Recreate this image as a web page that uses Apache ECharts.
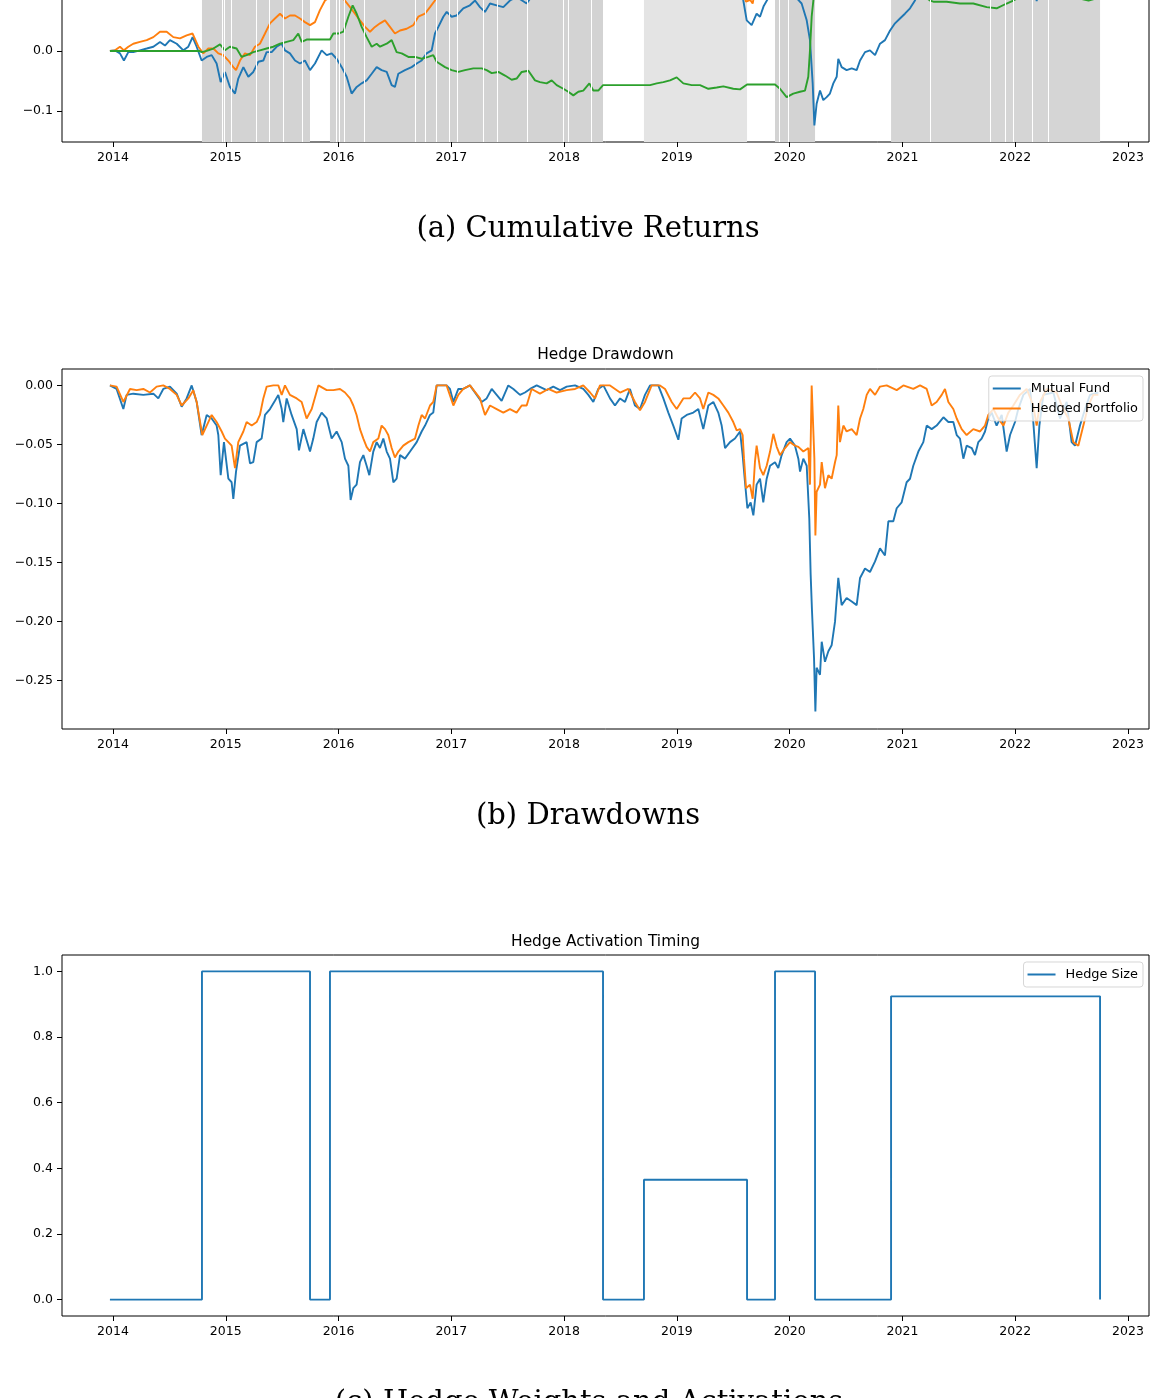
<!DOCTYPE html>
<html><head><meta charset="utf-8">
<script src="https://cdn.jsdelivr.net/npm/echarts@6/dist/echarts.min.js"></script>
<style>html,body{margin:0;padding:0;background:#fff;}#c{width:1158px;height:1398px;}</style>
</head><body><div id="c"></div>
<script>
// ---------------- data ----------------
const yearTicks = [2014, 2015, 2016, 2017, 2018, 2019, 2020, 2021, 2022, 2023];
const cumTicks = [-0.1, 0.0, 0.1, 0.2, 0.3, 0.4];
const ddTicks = [0, -0.05, -0.10, -0.15, -0.20, -0.25];
const sizeTicks = [0, 0.2, 0.4, 0.6, 0.8, 1.0];

// hedge size: value holds from hedgeYears[i] until hedgeYears[i+1]
const hedgeYears = [2013.973, 2014.789, 2015.747, 2015.924, 2018.345, 2018.708, 2019.622, 2019.870, 2020.225, 2020.899, 2022.752];
const hedgeSize  = [0, 1, 0, 1, 0, 0.365, 0, 1, 0, 0.924, 0];

// thin white gaps inside the shaded hedge periods
const shadeGapYears = [2014.973, 2014.993, 2015.052, 2015.268, 2015.392, 2015.510, 2015.682,
  2015.977, 2016.013, 2016.051, 2016.228, 2016.684, 2016.773, 2016.870, 2016.982, 2017.048,
  2017.283, 2017.408, 2017.668, 2017.987, 2018.037, 2018.245, 2019.914, 2019.988,
  2021.25, 2021.776, 2021.909, 2021.983, 2022.146, 2022.293];

const fundCum = [[2013.973,0],[2014.018,0.001],[2014.062,-0.004],[2014.097,-0.016],[2014.136,-0.002],[2014.180,-0.002],[2014.239,0.001],[2014.299,0.004],[2014.358,0.007],[2014.417,0.015],[2014.461,0.009],[2014.505,0.018],[2014.565,0.012],[2014.624,0.001],[2014.668,0.007],[2014.706,0.023],[2014.742,0.007],[2014.786,-0.016],[2014.831,-0.010],[2014.875,-0.007],[2014.919,-0.021],[2014.955,-0.052],[2014.993,-0.035],[2015.037,-0.060],[2015.082,-0.071],[2015.111,-0.046],[2015.156,-0.027],[2015.200,-0.043],[2015.244,-0.035],[2015.289,-0.018],[2015.333,-0.016],[2015.362,-0.002],[2015.407,-0.002],[2015.451,0.007],[2015.496,0.012],[2015.525,0.001],[2015.569,-0.004],[2015.614,-0.016],[2015.658,-0.021],[2015.702,-0.016],[2015.747,-0.032],[2015.791,-0.021],[2015.850,0.001],[2015.895,-0.007],[2015.939,-0.004],[2015.983,-0.013],[2016.028,-0.027],[2016.072,-0.043],[2016.116,-0.071],[2016.161,-0.060],[2016.205,-0.054],[2016.249,-0.049],[2016.294,-0.038],[2016.338,-0.027],[2016.382,-0.032],[2016.427,-0.035],[2016.471,-0.057],[2016.500,-0.060],[2016.530,-0.038],[2016.589,-0.032],[2016.648,-0.027],[2016.693,-0.021],[2016.737,-0.016],[2016.781,-0.004],[2016.826,0.001],[2016.855,0.029],[2016.885,0.040],[2016.929,0.057],[2016.959,0.065],[2017.003,0.057],[2017.047,0.059],[2017.106,0.071],[2017.165,0.076],[2017.210,0.084],[2017.254,0.073],[2017.298,0.065],[2017.343,0.079],[2017.402,0.076],[2017.461,0.073],[2017.520,0.084],[2017.579,0.090],[2017.668,0.079],[2017.698,0.087],[2017.8,0.10],[2018.0,0.115],[2018.2,0.13],[2018.35,0.14],[2018.6,0.15],[2018.8,0.165],[2019.0,0.111],[2019.1,0.136],[2019.23,0.122],[2019.3,0.148],[2019.43,0.103],[2019.52,0.112],[2019.56,0.12],[2019.589,0.084],[2019.619,0.051],[2019.663,0.043],[2019.707,0.062],[2019.737,0.057],[2019.77,0.075],[2019.81,0.088],[2019.87,0.095],[2019.97,0.109],[2020.0,0.113],[2020.062,0.088],[2020.106,0.079],[2020.151,0.051],[2020.180,0.018],[2020.204,-0.054],[2020.219,-0.124],[2020.239,-0.088],[2020.269,-0.066],[2020.298,-0.082],[2020.328,-0.077],[2020.357,-0.071],[2020.387,-0.054],[2020.417,-0.043],[2020.431,-0.013],[2020.461,-0.027],[2020.505,-0.032],[2020.550,-0.029],[2020.594,-0.032],[2020.624,-0.016],[2020.668,-0.002],[2020.712,0.001],[2020.757,-0.007],[2020.801,0.012],[2020.845,0.018],[2020.890,0.034],[2020.934,0.046],[2020.978,0.054],[2021.022,0.062],[2021.067,0.071],[2021.111,0.084],[2021.2,0.125],[2021.36,0.133],[2021.54,0.093],[2021.65,0.10],[2021.79,0.138],[2021.92,0.10],[2022.07,0.156],[2022.13,0.162],[2022.19,0.083],[2022.25,0.156],[2022.34,0.158],[2022.40,0.132],[2022.5,0.109],[2022.53,0.105],[2022.62,0.141],[2022.737,0.158]];

const hedgedCum = [[2013.973,0],[2014.018,0.001],[2014.062,0.007],[2014.097,0.001],[2014.136,0.007],[2014.180,0.012],[2014.239,0.015],[2014.299,0.018],[2014.358,0.023],[2014.417,0.032],[2014.476,0.032],[2014.535,0.023],[2014.594,0.021],[2014.653,0.026],[2014.706,0.029],[2014.757,0.007],[2014.801,-0.004],[2014.845,0.004],[2014.890,0.004],[2014.934,-0.004],[2014.978,-0.007],[2015.023,-0.016],[2015.067,-0.027],[2015.091,-0.032],[2015.126,-0.016],[2015.170,-0.004],[2015.215,-0.007],[2015.259,0.007],[2015.303,0.012],[2015.348,0.029],[2015.392,0.046],[2015.436,0.054],[2015.481,0.062],[2015.525,0.054],[2015.569,0.059],[2015.614,0.059],[2015.658,0.054],[2015.702,0.048],[2015.747,0.043],[2015.791,0.048],[2015.835,0.068],[2015.880,0.084],[2015.924,0.090],[2015.983,0.088],[2016.043,0.087],[2016.102,0.073],[2016.146,0.062],[2016.190,0.051],[2016.235,0.040],[2016.279,0.032],[2016.323,0.040],[2016.368,0.046],[2016.412,0.051],[2016.456,0.040],[2016.500,0.029],[2016.545,0.034],[2016.604,0.037],[2016.663,0.043],[2016.707,0.057],[2016.766,0.062],[2016.811,0.073],[2016.855,0.084],[2016.87,0.095],[2016.96,0.115],[2017.165,0.13],[2017.3,0.10],[2017.5,0.11],[2017.7,0.13],[2018.0,0.15],[2018.17,0.16],[2018.32,0.17],[2018.67,0.15],[2018.78,0.175],[2018.85,0.18],[2019.0,0.16],[2019.2,0.17],[2019.3,0.175],[2019.5,0.145],[2019.56,0.135],[2019.6,0.09],[2019.613,0.082],[2019.65,0.085],[2019.672,0.079],[2019.7,0.11],[2019.74,0.10],[2019.86,0.13],[2020.0,0.13],[2020.12,0.12],[2020.18,0.09],[2020.195,0.30],[2020.21,0.30],[2020.228,0.13],[2020.24,0.18],[2020.3,0.19],[2020.43,0.28],[2020.5,0.25],[2020.7,0.30],[2020.86,0.31],[2021.0,0.32],[2021.2,0.34],[2021.3,0.32],[2021.55,0.28],[2021.75,0.31],[2021.9,0.30],[2022.1,0.36],[2022.19,0.32],[2022.28,0.36],[2022.5,0.30],[2022.56,0.29],[2022.74,0.35]];

const hedgeCum = [[2013.973,0],[2014.765,0],[2014.786,-0.002],[2014.831,0],[2014.890,0.004],[2014.949,0.011],[2014.993,0.001],[2015.037,0.007],[2015.096,0.004],[2015.141,-0.010],[2015.185,-0.007],[2015.244,-0.002],[2015.303,0.001],[2015.362,0.004],[2015.422,0.007],[2015.481,0.012],[2015.540,0.015],[2015.599,0.018],[2015.643,0.029],[2015.673,0.015],[2015.717,0.019],[2015.747,0.019],[2015.924,0.019],[2015.954,0.029],[2015.998,0.029],[2016.043,0.032],[2016.087,0.057],[2016.125,0.076],[2016.161,0.062],[2016.205,0.040],[2016.249,0.023],[2016.294,0.007],[2016.338,0.012],[2016.368,0.007],[2016.427,0.012],[2016.471,0.018],[2016.515,-0.002],[2016.560,-0.004],[2016.619,-0.010],[2016.678,-0.010],[2016.737,-0.013],[2016.796,-0.010],[2016.840,-0.007],[2016.870,-0.018],[2016.944,-0.027],[2017.003,-0.032],[2017.062,-0.035],[2017.121,-0.032],[2017.195,-0.029],[2017.269,-0.029],[2017.313,-0.032],[2017.358,-0.037],[2017.417,-0.035],[2017.476,-0.041],[2017.535,-0.048],[2017.579,-0.046],[2017.624,-0.035],[2017.683,-0.033],[2017.742,-0.049],[2017.786,-0.052],[2017.845,-0.054],[2017.890,-0.049],[2017.934,-0.057],[2017.993,-0.063],[2018.037,-0.068],[2018.082,-0.074],[2018.126,-0.068],[2018.170,-0.066],[2018.224,-0.054],[2018.259,-0.066],[2018.303,-0.066],[2018.345,-0.057],[2018.708,-0.057],[2018.762,-0.057],[2018.821,-0.054],[2018.880,-0.052],[2018.939,-0.049],[2018.998,-0.044],[2019.057,-0.054],[2019.131,-0.057],[2019.205,-0.057],[2019.279,-0.063],[2019.353,-0.061],[2019.412,-0.059],[2019.500,-0.063],[2019.560,-0.064],[2019.622,-0.056],[2019.870,-0.056],[2019.914,-0.063],[2019.973,-0.077],[2020.032,-0.071],[2020.091,-0.068],[2020.136,-0.066],[2020.165,-0.043],[2020.180,0.001],[2020.195,0.057],[2020.210,0.084],[2020.225,0.15],[2020.899,0.15],[2021.0,0.12],[2021.1,0.10],[2021.2,0.09],[2021.244,0.084],[2021.274,0.082],[2021.392,0.082],[2021.510,0.079],[2021.628,0.079],[2021.747,0.073],[2021.835,0.071],[2021.924,0.079],[2021.983,0.084],[2022.1,0.095],[2022.3,0.10],[2022.5,0.095],[2022.6,0.086],[2022.65,0.084],[2022.69,0.086],[2022.752,0.09]];

const fundDrawdown = [[2013.973,0],[2014.032,-0.003],[2014.092,-0.020],[2014.121,-0.008],[2014.180,-0.007],[2014.269,-0.008],[2014.358,-0.007],[2014.402,-0.011],[2014.446,-0.003],[2014.505,-0.001],[2014.565,-0.007],[2014.609,-0.018],[2014.653,-0.011],[2014.698,0],[2014.742,-0.014],[2014.786,-0.042],[2014.831,-0.025],[2014.875,-0.028],[2014.919,-0.034],[2014.934,-0.042],[2014.955,-0.076],[2014.984,-0.048],[2015.023,-0.079],[2015.052,-0.082],[2015.067,-0.096],[2015.091,-0.073],[2015.126,-0.051],[2015.185,-0.048],[2015.215,-0.066],[2015.244,-0.065],[2015.274,-0.048],[2015.318,-0.045],[2015.348,-0.025],[2015.392,-0.020],[2015.436,-0.013],[2015.466,-0.008],[2015.496,-0.020],[2015.510,-0.031],[2015.540,-0.011],[2015.584,-0.025],[2015.629,-0.037],[2015.649,-0.055],[2015.688,-0.037],[2015.747,-0.056],[2015.776,-0.045],[2015.806,-0.031],[2015.850,-0.023],[2015.895,-0.028],[2015.939,-0.045],[2015.983,-0.039],[2016.028,-0.048],[2016.057,-0.062],[2016.087,-0.068],[2016.107,-0.097],[2016.131,-0.087],[2016.160,-0.084],[2016.190,-0.065],[2016.220,-0.059],[2016.249,-0.068],[2016.273,-0.076],[2016.308,-0.056],[2016.338,-0.048],[2016.367,-0.053],[2016.397,-0.045],[2016.427,-0.056],[2016.456,-0.062],[2016.486,-0.082],[2016.515,-0.079],[2016.545,-0.059],[2016.589,-0.062],[2016.634,-0.056],[2016.693,-0.048],[2016.737,-0.039],[2016.767,-0.034],[2016.811,-0.025],[2016.840,-0.023],[2016.870,0],[2016.958,0],[2016.988,-0.003],[2017.018,-0.014],[2017.062,-0.003],[2017.106,-0.003],[2017.165,0],[2017.225,-0.008],[2017.269,-0.014],[2017.313,-0.011],[2017.358,-0.003],[2017.402,-0.008],[2017.446,-0.013],[2017.505,0],[2017.550,-0.003],[2017.609,-0.008],[2017.653,-0.006],[2017.698,-0.003],[2017.757,0],[2017.845,-0.004],[2017.904,-0.001],[2017.964,-0.004],[2018.023,-0.001],[2018.097,0],[2018.170,-0.003],[2018.215,-0.008],[2018.259,-0.014],[2018.303,-0.003],[2018.348,0],[2018.407,-0.011],[2018.451,-0.017],[2018.496,-0.011],[2018.540,-0.014],[2018.584,-0.003],[2018.628,-0.017],[2018.673,-0.020],[2018.717,-0.008],[2018.762,0],[2018.835,0],[2018.880,-0.011],[2018.924,-0.023],[2018.968,-0.034],[2019.013,-0.046],[2019.042,-0.028],[2019.087,-0.025],[2019.146,-0.023],[2019.190,-0.020],[2019.234,-0.037],[2019.279,-0.017],[2019.323,-0.014],[2019.367,-0.023],[2019.397,-0.034],[2019.427,-0.053],[2019.471,-0.048],[2019.515,-0.045],[2019.560,-0.039],[2019.583,-0.059],[2019.604,-0.082],[2019.625,-0.104],[2019.654,-0.099],[2019.678,-0.110],[2019.707,-0.084],[2019.737,-0.079],[2019.766,-0.099],[2019.796,-0.079],[2019.826,-0.068],[2019.870,-0.065],[2019.899,-0.070],[2019.929,-0.059],[2019.973,-0.048],[2020.003,-0.045],[2020.047,-0.051],[2020.077,-0.062],[2020.092,-0.073],[2020.121,-0.062],[2020.151,-0.068],[2020.174,-0.113],[2020.186,-0.160],[2020.198,-0.191],[2020.216,-0.231],[2020.228,-0.276],[2020.239,-0.239],[2020.269,-0.245],[2020.284,-0.217],[2020.313,-0.234],[2020.343,-0.225],[2020.372,-0.220],[2020.402,-0.200],[2020.431,-0.163],[2020.461,-0.186],[2020.505,-0.180],[2020.550,-0.183],[2020.594,-0.186],[2020.624,-0.163],[2020.668,-0.155],[2020.712,-0.158],[2020.757,-0.149],[2020.801,-0.138],[2020.845,-0.144],[2020.875,-0.115],[2020.919,-0.115],[2020.949,-0.104],[2020.993,-0.099],[2021.037,-0.082],[2021.067,-0.079],[2021.096,-0.068],[2021.141,-0.056],[2021.185,-0.048],[2021.215,-0.034],[2021.259,-0.037],[2021.303,-0.034],[2021.363,-0.027],[2021.407,-0.031],[2021.451,-0.031],[2021.481,-0.042],[2021.510,-0.045],[2021.540,-0.062],[2021.569,-0.051],[2021.614,-0.053],[2021.643,-0.059],[2021.673,-0.048],[2021.702,-0.045],[2021.732,-0.039],[2021.761,-0.028],[2021.791,-0.023],[2021.835,-0.034],[2021.880,-0.025],[2021.924,-0.056],[2021.954,-0.042],[2021.998,-0.031],[2022.027,-0.020],[2022.072,-0.008],[2022.131,-0.003],[2022.160,-0.031],[2022.190,-0.070],[2022.214,-0.034],[2022.249,-0.008],[2022.338,-0.006],[2022.397,-0.028],[2022.456,-0.014],[2022.500,-0.048],[2022.530,-0.051],[2022.574,-0.034],[2022.619,-0.020],[2022.663,-0.008],[2022.737,-0.006]];

const hedgedDrawdown = [[2013.973,0],[2014.032,-0.001],[2014.092,-0.014],[2014.151,-0.003],[2014.210,-0.004],[2014.269,-0.003],[2014.328,-0.006],[2014.387,-0.001],[2014.446,0],[2014.505,-0.003],[2014.565,-0.008],[2014.609,-0.017],[2014.668,-0.011],[2014.712,-0.004],[2014.742,-0.014],[2014.792,-0.042],[2014.831,-0.034],[2014.875,-0.025],[2014.919,-0.031],[2014.964,-0.039],[2014.993,-0.045],[2015.023,-0.048],[2015.052,-0.051],[2015.082,-0.070],[2015.111,-0.048],[2015.156,-0.039],[2015.185,-0.031],[2015.230,-0.034],[2015.274,-0.031],[2015.303,-0.025],[2015.333,-0.011],[2015.363,-0.001],[2015.422,0],[2015.466,0],[2015.496,-0.008],[2015.525,0],[2015.569,-0.008],[2015.629,-0.011],[2015.673,-0.014],[2015.717,-0.028],[2015.762,-0.020],[2015.821,0],[2015.895,-0.004],[2015.954,-0.004],[2016.013,-0.003],[2016.057,-0.006],[2016.102,-0.011],[2016.131,-0.017],[2016.160,-0.025],[2016.190,-0.037],[2016.220,-0.045],[2016.249,-0.052],[2016.279,-0.056],[2016.308,-0.048],[2016.353,-0.045],[2016.382,-0.034],[2016.412,-0.037],[2016.441,-0.042],[2016.471,-0.053],[2016.500,-0.061],[2016.530,-0.056],[2016.574,-0.051],[2016.619,-0.048],[2016.678,-0.045],[2016.708,-0.034],[2016.737,-0.025],[2016.767,-0.028],[2016.811,-0.017],[2016.840,-0.014],[2016.870,0],[2016.958,0],[2017.018,-0.017],[2017.062,-0.008],[2017.106,-0.003],[2017.165,0],[2017.254,-0.011],[2017.299,-0.025],[2017.343,-0.017],[2017.402,-0.020],[2017.461,-0.023],[2017.520,-0.020],[2017.579,-0.023],[2017.624,-0.017],[2017.668,-0.017],[2017.712,-0.003],[2017.786,-0.007],[2017.860,-0.003],[2017.934,-0.006],[2018.023,-0.004],[2018.097,-0.003],[2018.170,0],[2018.230,-0.006],[2018.274,-0.011],[2018.318,0],[2018.407,0],[2018.496,-0.006],[2018.569,-0.003],[2018.628,-0.014],[2018.673,-0.021],[2018.717,-0.014],[2018.776,0],[2018.850,0],[2018.895,-0.003],[2018.954,-0.014],[2018.998,-0.020],[2019.057,-0.011],[2019.116,-0.011],[2019.161,-0.006],[2019.205,-0.011],[2019.234,-0.020],[2019.279,-0.006],[2019.323,-0.008],[2019.367,-0.011],[2019.412,-0.017],[2019.456,-0.023],[2019.500,-0.031],[2019.530,-0.038],[2019.560,-0.037],[2019.583,-0.042],[2019.595,-0.062],[2019.613,-0.087],[2019.648,-0.084],[2019.672,-0.096],[2019.692,-0.065],[2019.707,-0.051],[2019.737,-0.070],[2019.766,-0.076],[2019.796,-0.068],[2019.826,-0.056],[2019.855,-0.041],[2019.885,-0.052],[2019.914,-0.059],[2019.959,-0.053],[2020.003,-0.048],[2020.047,-0.051],[2020.077,-0.052],[2020.121,-0.056],[2020.166,-0.053],[2020.180,-0.084],[2020.195,0],[2020.210,0],[2020.219,-0.062],[2020.228,-0.127],[2020.239,-0.090],[2020.269,-0.084],[2020.284,-0.065],[2020.313,-0.087],[2020.343,-0.076],[2020.372,-0.079],[2020.402,-0.065],[2020.417,-0.059],[2020.431,-0.017],[2020.446,-0.048],[2020.476,-0.034],[2020.505,-0.039],[2020.550,-0.037],[2020.594,-0.042],[2020.624,-0.028],[2020.653,-0.020],[2020.683,-0.008],[2020.712,-0.003],[2020.757,-0.008],[2020.801,-0.001],[2020.860,0],[2020.949,-0.004],[2021.008,0],[2021.096,-0.003],[2021.156,0],[2021.215,-0.003],[2021.259,-0.017],[2021.303,-0.014],[2021.348,-0.008],[2021.377,-0.003],[2021.407,-0.014],[2021.451,-0.020],[2021.481,-0.028],[2021.525,-0.037],[2021.569,-0.042],[2021.628,-0.037],[2021.688,-0.039],[2021.732,-0.034],[2021.761,-0.025],[2021.806,-0.020],[2021.850,-0.028],[2021.895,-0.034],[2021.939,-0.023],[2021.983,-0.017],[2022.042,-0.008],[2022.101,-0.003],[2022.160,-0.017],[2022.190,-0.034],[2022.220,-0.014],[2022.279,-0.003],[2022.367,-0.006],[2022.426,-0.020],[2022.471,-0.028],[2022.515,-0.048],[2022.559,-0.051],[2022.604,-0.034],[2022.648,-0.017],[2022.692,-0.008],[2022.737,-0.008]];

// ---------------- chart ----------------
const BLUE = '#1f77b4', ORANGE = '#ff7f0e', GREEN = '#2ca02c';
const SANS = '"DejaVu Sans", sans-serif';
const SERIF = '"DejaVu Serif", serif';
const X_MIN = 2013.548, X_MAX = 2023.186;
const minus = s => s.replace('-', '\u2212');

function shade(w) {
  const g = Math.round(255 - 44 * Math.sqrt(w));
  return 'rgb(' + g + ',' + g + ',' + g + ')';
}
const shadeAreas = [];
for (let i = 0; i < hedgeSize.length - 1; i++) {
  if (hedgeSize[i] > 0) {
    shadeAreas.push([{ xAxis: hedgeYears[i], itemStyle: { color: shade(hedgeSize[i]) } }, { xAxis: hedgeYears[i + 1] }]);
  }
}
const stepData = hedgeYears.map((y, i) => [y, hedgeSize[i]]);

const grids = [
  { left: 62, top: -218, width: 1087, height: 360 },
  { left: 62, top: 369, width: 1087, height: 360 },
  { left: 62, top: 955, width: 1087, height: 361 }
].map(g => Object.assign(g, { show: true, borderColor: '#000', borderWidth: 1, backgroundColor: 'transparent',
  containLabel: false, outerBoundsMode: 'none' }));

function xAxis(i) {
  return {
    type: 'value', gridIndex: i, min: X_MIN, max: X_MAX, position: 'bottom',
    axisLine: { show: false, onZero: false }, splitLine: { show: false },
    axisTick: { show: true, length: 5, lineStyle: { color: '#000', width: 1 }, customValues: yearTicks },
    axisLabel: { customValues: yearTicks, formatter: v => String(Math.round(v)), fontSize: 12.5, fontFamily: SANS, color: '#000', margin: 9 }
  };
}
function yAxis(i, min, max, ticks, dec) {
  return {
    type: 'value', gridIndex: i, min: min, max: max, position: 'left',
    axisLine: { show: false, onZero: false }, splitLine: { show: false },
    axisTick: { show: true, length: 5, lineStyle: { color: '#000', width: 1 }, customValues: ticks },
    axisLabel: { customValues: ticks, formatter: v => minus((Math.abs(v) < 1e-9 ? 0 : v).toFixed(dec)), fontSize: 12.5, fontFamily: SANS, color: '#000', margin: 9 }
  };
}
function line(name, data, color, idx, z) {
  return { name: name, type: 'line', data: data, xAxisIndex: idx, yAxisIndex: idx, symbol: 'none', showSymbol: false,
    lineStyle: { color: color, width: 1.9 }, itemStyle: { color: color }, z: z || 2, animation: false, silent: true, clip: true };
}

const legendBase = {
  orient: 'vertical', right: 15, icon: 'rect', itemWidth: 28, itemHeight: 2, itemGap: 5, padding: [5, 5, 5, 4],
  backgroundColor: 'rgba(255,255,255,0.8)', borderColor: 'rgba(204,204,204,0.8)', borderWidth: 1, borderRadius: 3,
  selectedMode: false, textStyle: { fontSize: 12.9, fontFamily: SANS, color: '#000', padding: [0, 0, 0, 5], lineHeight: 15 }
};

const option = {
  animation: false,
  backgroundColor: '#fff',
  grid: grids,
  xAxis: [xAxis(0), xAxis(1), xAxis(2)],
  yAxis: [
    yAxis(0, -0.1517, 0.448, cumTicks, 1),
    yAxis(1, -0.2909, 0.0139, ddTicks, 2),
    yAxis(2, -0.05, 1.05, sizeTicks, 1)
  ],
  legend: [
    Object.assign({}, legendBase, { top: 376, data: ['Mutual Fund', 'Hedged Portfolio'] }),
    Object.assign({}, legendBase, { top: 962, data: ['Hedge Size'] })
  ],
  series: [
    { type: 'line', data: [], xAxisIndex: 0, yAxisIndex: 0, z: 1, silent: true,
      markArea: { silent: true, label: { show: false }, data: shadeAreas } },
    { type: 'line', data: [], xAxisIndex: 0, yAxisIndex: 0, z: 1, silent: true,
      markLine: { silent: true, symbol: ['none', 'none'], label: { show: false },
        lineStyle: { color: '#fff', width: 1, type: 'solid', opacity: 1 },
        data: shadeGapYears.map(v => ({ xAxis: v })) } },
    line('Mutual Fund (cum.)', fundCum, BLUE, 0, 3),
    line('Hedged Portfolio (cum.)', hedgedCum, ORANGE, 0, 3),
    line('Hedge (cum.)', hedgeCum, GREEN, 0, 3),
    line('Mutual Fund', fundDrawdown, BLUE, 1, 3),
    line('Hedged Portfolio', hedgedDrawdown, ORANGE, 1, 3),
    Object.assign(line('Hedge Size', stepData, BLUE, 2, 3), { step: 'end' })
  ],
  graphic: [
    { type: 'text', x: 588, y: 229, style: { text: '(a) Cumulative Returns', font: '29px ' + SERIF, fill: '#000', textAlign: 'center', textVerticalAlign: 'middle', align: 'center', verticalAlign: 'middle' } },
    { type: 'text', x: 605.5, y: 355, style: { text: 'Hedge Drawdown', font: '15.4px ' + SANS, fill: '#000', textAlign: 'center', textVerticalAlign: 'middle', align: 'center', verticalAlign: 'middle' } },
    { type: 'text', x: 588, y: 816, style: { text: '(b) Drawdowns', font: '29px ' + SERIF, fill: '#000', textAlign: 'center', textVerticalAlign: 'middle', align: 'center', verticalAlign: 'middle' } },
    { type: 'text', x: 605.5, y: 942, style: { text: 'Hedge Activation Timing', font: '15.4px ' + SANS, fill: '#000', textAlign: 'center', textVerticalAlign: 'middle', align: 'center', verticalAlign: 'middle' } },
    { type: 'text', x: 589, y: 1403, style: { text: '(c) Hedge Weights and Activations', font: '29px ' + SERIF, fill: '#000', textAlign: 'center', textVerticalAlign: 'middle', align: 'center', verticalAlign: 'middle' } }
  ]
};

const chart = echarts.init(document.getElementById('c'), null, { renderer: 'canvas', width: 1158, height: 1398 });
chart.setOption(option);
</script>
</body></html>
